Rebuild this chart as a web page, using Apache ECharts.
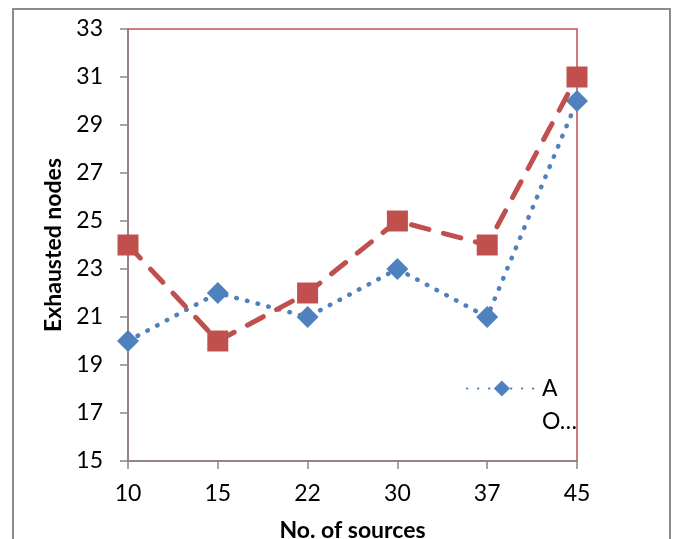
<!DOCTYPE html>
<html><head><meta charset="utf-8">
<script src="https://cdn.jsdelivr.net/npm/echarts@6/dist/echarts.min.js"></script>
<style>html,body{margin:0;padding:0;background:#fff}#c{width:677px;height:539px}</style>
</head><body><div id="c"></div>
<script>
var categories = ['10','15','22','30','37','45'];
var seriesA = [20,22,21,23,21,30];
var seriesO = [24,20,22,25,24,31];
var yMin = 15, yMax = 33, yStep = 2;
var font = 'Lato, "Open Sans", sans-serif';
var chart = echarts.init(document.getElementById('c'));
chart.setOption({
  animation:false,
  backgroundColor:'#fff',
  graphic:[{type:'rect',shape:{x:13,y:9,width:657,height:545},style:{fill:'none',stroke:'#8c8c8c',lineWidth:2},z:-1}],
  grid:{left:128,right:100,top:29,bottom:78,show:true,borderColor:'#C0504D',borderWidth:1.5,backgroundColor:'transparent',outerBoundsMode:'none',containLabel:false},
  legend:{right:95,top:372,orient:'vertical',itemGap:10,itemWidth:70,itemHeight:20,
    textStyle:{fontFamily:font,fontSize:23,color:'#000'},
    data:[{name:'A'},{name:'O…',icon:'none',itemStyle:{opacity:0},lineStyle:{opacity:0}}]},
  xAxis:{type:'category',data:categories,boundaryGap:false,
    axisLine:{lineStyle:{color:'#868686',width:1.5}},
    axisTick:{length:8,lineStyle:{color:'#868686',width:1.5}},
    axisLabel:{fontFamily:font,fontSize:23,color:'#000',margin:21},
    name:'No. of sources',nameLocation:'middle',nameGap:58,
    nameTextStyle:{fontFamily:font,fontSize:23,fontWeight:'bold',color:'#000'}},
  yAxis:{type:'value',min:yMin,max:yMax,interval:yStep,
    axisLine:{show:true,lineStyle:{color:'#868686',width:1.5}},
    axisTick:{show:true,length:8,lineStyle:{color:'#868686',width:1.5}},
    splitLine:{show:false},
    axisLabel:{fontFamily:font,fontSize:23,color:'#000',margin:25},
    name:'Exhausted nodes',nameLocation:'middle',nameGap:62,
    nameTextStyle:{fontFamily:font,fontSize:23,fontWeight:'bold',color:'#000'}},
  series:[
    {name:'A',type:'line',data:seriesA,symbol:'diamond',symbolSize:22,
      itemStyle:{color:'#4F81BD'},lineStyle:{color:'#4F81BD',width:4.5,type:[0.5,10.5],cap:'round'},z:2},
    {name:'O…',type:'line',data:seriesO,symbol:'rect',symbolSize:21,
      itemStyle:{color:'#C0504D'},lineStyle:{color:'#C0504D',width:5,type:[18,15],cap:'round'},z:3}
  ]
});
</script></body></html>
